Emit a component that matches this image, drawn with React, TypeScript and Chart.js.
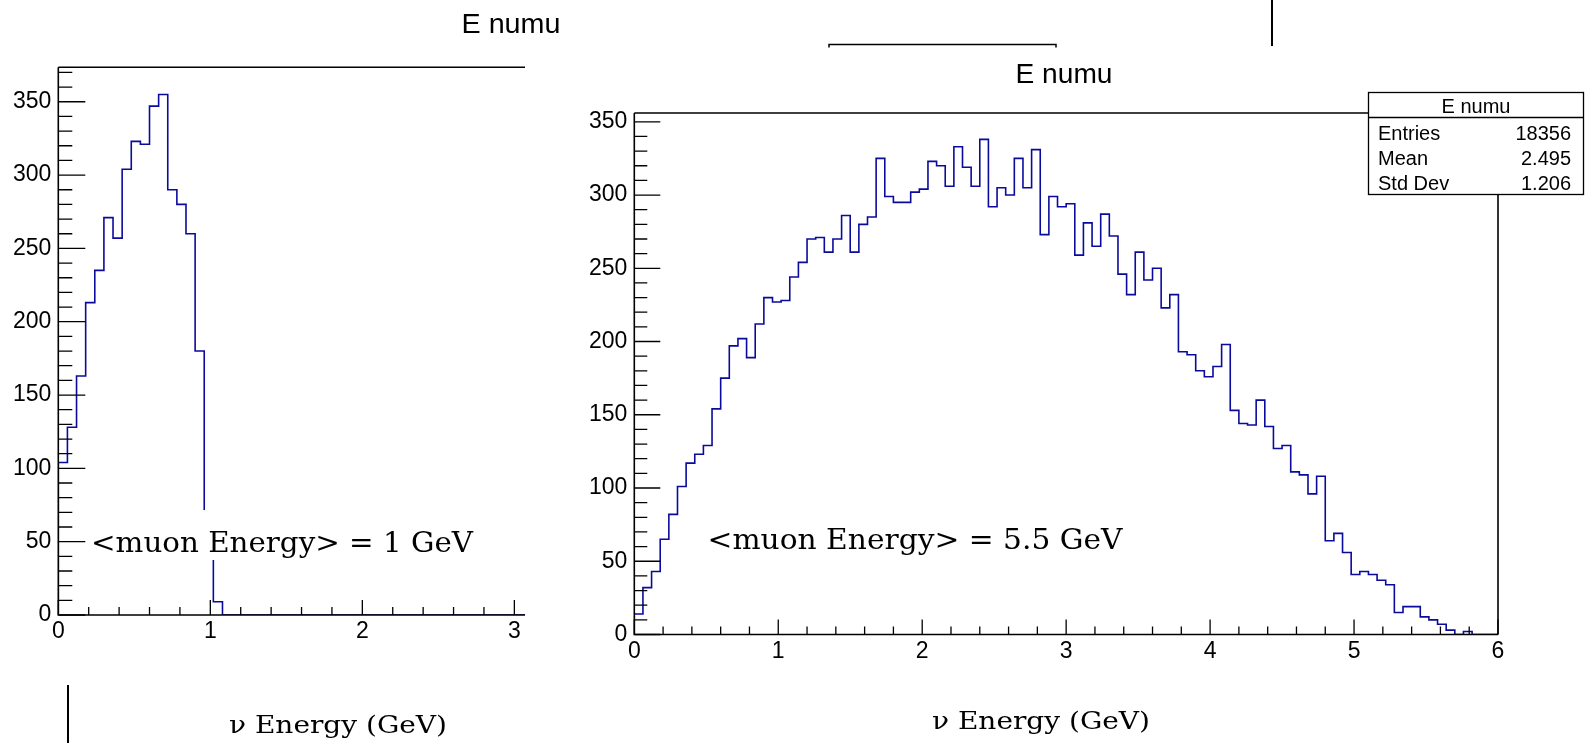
import React, { useEffect, useRef } from "react";
import { Chart, registerables } from "chart.js";

Chart.register(...registerables);

// ---------------- data ----------------
const BIN_WIDTH = 0.06;

// left histogram (<muon Energy> = 1 GeV), bins of 0.06 GeV starting at 0
const LEFT_COUNTS = [
  104, 128, 163, 213, 235, 271, 257, 304, 323, 321,
  347, 355, 290, 280, 260, 180, 55, 9, 0, 0,
  0, 0, 0, 0, 0, 0, 0, 0, 0, 0,
  0, 0, 0, 0, 0, 0, 0, 0, 0, 0,
  0, 0, 0, 0, 0, 0, 0, 0, 0, 0,
  0, 0,
];

// right histogram (<muon Energy> = 5.5 GeV), 100 bins of 0.06 GeV from 0 to 6
const RIGHT_COUNTS = [
  14, 32, 43, 65, 82, 101, 117, 123, 129, 154,
  175, 197, 202, 189, 212, 230, 227, 228, 244, 254,
  270, 271, 261, 270, 286, 261, 280, 285, 325, 299,
  295, 295, 302, 304, 323, 320, 306, 333, 319, 306,
  338, 292, 305, 300, 325, 305, 331, 273, 299, 292,
  294, 259, 281, 265, 287, 272, 246, 232, 261, 242,
  250, 223, 232, 193, 191, 180, 176, 183, 198, 153,
  144, 143, 160, 142, 127, 129, 111, 109, 96, 108,
  64, 69, 56, 41, 43, 41, 37, 34, 15, 19,
  19, 12, 10, 7, 3, 0, 2, 0, 0, 0,
];

const LEFT_X_TICKS = [0, 1, 2, 3];
const RIGHT_X_TICKS = [0, 1, 2, 3, 4, 5, 6];
const Y_TICKS = [0, 50, 100, 150, 200, 250, 300, 350];
const LEFT_X_MAX = 3.07;
const RIGHT_X_MAX = 6;
const LEFT_Y_MAX = 373.5;
const RIGHT_Y_MAX = 356;
const X_MINOR_STEP = 0.2;
const Y_MINOR_STEP = 10;

const HIST_TITLE = "E numu";
const LEFT_LABEL = "<muon Energy> = 1 GeV";
const RIGHT_LABEL = "<muon Energy> = 5.5 GeV";
const AXIS_TITLE = "\u03bd Energy (GeV)";
const STATS_ROWS: [string, string][] = [
  ["Entries", "18356"],
  ["Mean", "2.495"],
  ["Std Dev", "1.206"],
];

// ---------------- styles ----------------
const W = 1585;
const H = 743;
const SANS = '"Liberation Sans", Arial, Helvetica, sans-serif';
const SERIF = '"DejaVu Serif", "Liberation Serif", serif';
const HIST_COLOR = "#0a0a9c";

function histPoints(counts: number[]) {
  const pts: { x: number; y: number }[] = [{ x: 0, y: 0 }];
  counts.forEach((c, i) => pts.push({ x: i * BIN_WIDTH, y: c }));
  const end = counts.length * BIN_WIDTH;
  pts.push({ x: end, y: counts[counts.length - 1] });
  pts.push({ x: end, y: 0 });
  return pts;
}

function fitText(
  ctx: CanvasRenderingContext2D,
  text: string,
  x: number,
  baseline: number,
  width: number,
  font: string,
  align: "left" | "center" | "right"
) {
  ctx.save();
  ctx.font = font;
  ctx.textAlign = "left";
  ctx.textBaseline = "alphabetic";
  const w = ctx.measureText(text).width;
  const sx = width / w;
  let x0 = x;
  if (align === "center") x0 = x - width / 2;
  if (align === "right") x0 = x - width;
  ctx.translate(x0, baseline);
  ctx.scale(sx, 1);
  ctx.fillStyle = "#000";
  ctx.fillText(text, 0, 0);
  ctx.restore();
}

type FrameCfg = {
  right: boolean;
  yMajor: number;
  yMinor: number;
  xMajor: number;
  xMinor: number;
  label: string;
  labelBox: [number, number, number, number];
  labelX: number;
  labelBaseline: number;
  labelWidth: number;
  titleX: number;
  titleBaseline: number;
  decorations: boolean;
};

function makeFramePlugin(cfg: FrameCfg) {
  return {
    id: "rootFrame",
    afterDatasetsDraw(chart: any) {
      const { ctx, chartArea: a, scales } = chart;
      const xs = scales.x;
      const ys = scales.y;
      ctx.save();
      ctx.strokeStyle = "#000";
      ctx.lineWidth = 1.6;
      ctx.beginPath();
      ctx.moveTo(a.left, a.top);
      ctx.lineTo(a.left, a.bottom);
      ctx.lineTo(a.right, a.bottom);
      ctx.moveTo(a.left, a.top);
      ctx.lineTo(a.right, a.top);
      if (cfg.right) {
        ctx.moveTo(a.right, a.top);
        ctx.lineTo(a.right, a.bottom);
      }
      ctx.stroke();
      ctx.lineWidth = 1.3;
      ctx.beginPath();
      for (let k = 0; k * Y_MINOR_STEP <= ys.max + 1e-9; k++) {
        const py = ys.getPixelForValue(k * Y_MINOR_STEP);
        const len = k % 5 === 0 ? cfg.yMajor : cfg.yMinor;
        ctx.moveTo(a.left, py);
        ctx.lineTo(a.left + len, py);
      }
      for (let k = 0; k * X_MINOR_STEP <= xs.max + 1e-9; k++) {
        const px = xs.getPixelForValue(k * X_MINOR_STEP);
        const len = k % 5 === 0 ? cfg.xMajor : cfg.xMinor;
        ctx.moveTo(px, a.bottom);
        ctx.lineTo(px, a.bottom - len);
      }
      ctx.stroke();
      ctx.restore();
    },
    afterDraw(chart: any) {
      const { ctx } = chart;
      const [bx, by, bw, bh] = cfg.labelBox;
      ctx.save();
      ctx.fillStyle = "#fff";
      ctx.fillRect(bx, by, bw, bh);
      ctx.restore();
      fitText(ctx, cfg.label, cfg.labelX, cfg.labelBaseline, cfg.labelWidth, `28px ${SERIF}`, "left");
      fitText(ctx, AXIS_TITLE, cfg.titleX, cfg.titleBaseline, 218, `25px ${SERIF}`, "center");

      if (!cfg.decorations) return;
      ctx.save();
      ctx.strokeStyle = "#000";
      ctx.lineWidth = 1.5;
      ctx.beginPath();
      ctx.moveTo(829, 47.5);
      ctx.lineTo(829, 44.5);
      ctx.lineTo(1056, 44.5);
      ctx.lineTo(1056, 47.5);
      ctx.stroke();
      ctx.lineWidth = 2;
      ctx.beginPath();
      ctx.moveTo(1272, 0);
      ctx.lineTo(1272, 46);
      ctx.moveTo(68, 685);
      ctx.lineTo(68, 743);
      ctx.stroke();
      ctx.restore();

      fitText(ctx, HIST_TITLE, 511, 32.5, 99, `27px ${SANS}`, "center");
      fitText(ctx, HIST_TITLE, 1064, 83, 97, `27px ${SANS}`, "center");

      ctx.save();
      ctx.fillStyle = "#fff";
      ctx.fillRect(1368, 92, 216, 103);
      ctx.strokeStyle = "#000";
      ctx.lineWidth = 1.3;
      ctx.strokeRect(1368.5, 92.5, 215, 102);
      ctx.beginPath();
      ctx.moveTo(1368.5, 117.5);
      ctx.lineTo(1583.5, 117.5);
      ctx.stroke();
      ctx.fillStyle = "#000";
      ctx.font = `20px ${SANS}`;
      ctx.textBaseline = "alphabetic";
      ctx.textAlign = "center";
      ctx.fillText(HIST_TITLE, 1476, 113);
      STATS_ROWS.forEach(([k, v], i) => {
        const yb = 140 + i * 25;
        ctx.textAlign = "left";
        ctx.fillText(k, 1378, yb);
        ctx.textAlign = "right";
        ctx.fillText(v, 1571, yb);
      });
      ctx.restore();
    },
  };
}

function makeConfig(
  counts: number[],
  xTicks: number[],
  xMax: number,
  yMax: number,
  area: { left: number; right: number; top: number; bottom: number },
  yAxisWidth: number,
  cfg: FrameCfg
): any {
  const xAxisHeight = 40;
  return {
    type: "line",
    data: {
      datasets: [
        {
          data: histPoints(counts),
          stepped: true,
          borderColor: HIST_COLOR,
          borderWidth: 1.6,
          pointRadius: 0,
          fill: false,
          tension: 0,
        },
      ],
    },
    options: {
      animation: false,
      responsive: false,
      devicePixelRatio: 1,
      events: [],
      layout: {
        padding: {
          left: area.left - yAxisWidth,
          right: W - area.right,
          top: area.top,
          bottom: H - area.bottom - xAxisHeight,
        },
      },
      plugins: { legend: { display: false }, tooltip: { enabled: false }, title: { display: false } },
      scales: {
        x: {
          type: "linear",
          min: 0,
          max: xMax,
          afterFit: (s: any) => {
            s.height = xAxisHeight;
          },
          afterBuildTicks: (s: any) => {
            s.ticks = xTicks.map((v) => ({ value: v }));
          },
          grid: { display: false, drawTicks: false },
          border: { display: false },
          ticks: {
            color: "#000",
            font: { family: SANS, size: 23 },
            padding: 3,
            autoSkip: false,
            maxRotation: 0,
            callback: (v: any) => String(v),
          },
        },
        y: {
          type: "linear",
          min: 0,
          max: yMax,
          afterFit: (s: any) => {
            s.width = yAxisWidth;
          },
          afterBuildTicks: (s: any) => {
            s.ticks = Y_TICKS.map((v) => ({ value: v }));
          },
          grid: { display: false, drawTicks: false },
          border: { display: false },
          ticks: {
            color: "#000",
            font: { family: SANS, size: 23 },
            padding: 7,
            autoSkip: false,
            callback: (v: any) => String(v),
          },
        },
      },
    },
    plugins: [makeFramePlugin(cfg)],
  };
}

export default function App() {
  const leftRef = useRef<HTMLCanvasElement>(null);
  const rightRef = useRef<HTMLCanvasElement>(null);

  useEffect(() => {
    if (!leftRef.current || !rightRef.current) return;
    const left = new Chart(
      leftRef.current,
      makeConfig(
        LEFT_COUNTS,
        LEFT_X_TICKS,
        LEFT_X_MAX,
        LEFT_Y_MAX,
        { left: 58.3, right: 525, top: 67.3, bottom: 615 },
        58.3,
        {
          right: false,
          yMajor: 27,
          yMinor: 14,
          xMajor: 15,
          xMinor: 8,
          label: LEFT_LABEL,
          labelBox: [87, 510, 392, 50],
          labelX: 91,
          labelBaseline: 551.7,
          labelWidth: 382,
          titleX: 338,
          titleBaseline: 733,
          decorations: false,
        }
      )
    );
    const right = new Chart(
      rightRef.current,
      makeConfig(
        RIGHT_COUNTS,
        RIGHT_X_TICKS,
        RIGHT_X_MAX,
        RIGHT_Y_MAX,
        { left: 634.3, right: 1498, top: 113, bottom: 634.5 },
        70,
        {
          right: true,
          yMajor: 26,
          yMinor: 13,
          xMajor: 15,
          xMinor: 8,
          label: RIGHT_LABEL,
          labelBox: [703, 507, 424, 50],
          labelX: 707.5,
          labelBaseline: 548.7,
          labelWidth: 415,
          titleX: 1041,
          titleBaseline: 729,
          decorations: true,
        }
      )
    );
    return () => {
      left.destroy();
      right.destroy();
    };
  }, []);

  return (
    <div
      style={{
        position: "fixed",
        left: 0,
        top: 0,
        width: W,
        height: H,
        background: "#fff",
        overflow: "hidden",
      }}
    >
      <canvas ref={leftRef} width={W} height={H} style={{ position: "absolute", left: 0, top: 0 }} />
      <canvas ref={rightRef} width={W} height={H} style={{ position: "absolute", left: 0, top: 0 }} />
    </div>
  );
}
